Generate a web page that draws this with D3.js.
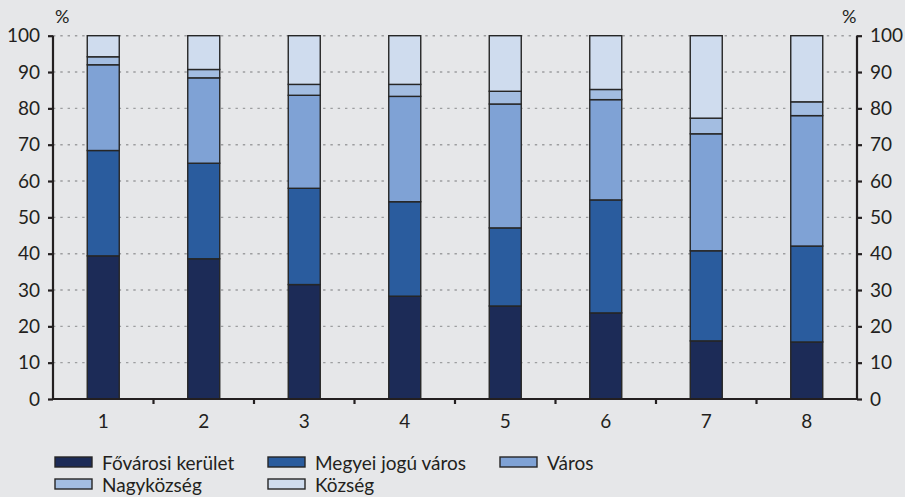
<!DOCTYPE html>
<html>
<head>
<meta charset="utf-8">
<script src="https://cdn.jsdelivr.net/npm/d3@7"></script>
<style>
  body { margin: 0; background: #e6e7e9; }
  svg { display: block; }
  text { font-family: Lato, "Open Sans", sans-serif; fill: #231f20; }
</style>
</head>
<body>
<svg id="chart" width="905" height="497"></svg>
<script>
// categories and series (percent shares)
var categories = ["1", "2", "3", "4", "5", "6", "7", "8"];
var seriesNames = ["Fővárosi kerület", "Megyei jogú város", "Város", "Nagyközség", "Község"];
var fovarosi   = [39.4, 38.6, 31.5, 28.3, 25.6, 23.7, 16.0, 15.7];
var megyei     = [29.0, 26.3, 26.5, 26.0, 21.5, 31.1, 24.8, 26.4];
var varos      = [23.6, 23.5, 25.6, 29.0, 34.1, 27.6, 32.2, 35.9];
var nagykozseg = [2.2, 2.3, 3.0, 3.3, 3.5, 2.8, 4.3, 3.8];
var kozseg     = [5.8, 9.3, 13.4, 13.4, 15.3, 14.8, 22.7, 18.2];
var yTicks = [0, 10, 20, 30, 40, 50, 60, 70, 80, 90, 100];

var colors = ["#1c2b57", "#2a5c9e", "#7fa2d5", "#a3bde1", "#cfdcee"];

var svg = d3.select("#chart"),
    plotL = 53, plotR = 857, plotT = 35.7, plotB = 399;

var rows = categories.map(function(c, i) {
  return { cat: c, s0: fovarosi[i], s1: megyei[i], s2: varos[i], s3: nagykozseg[i], s4: kozseg[i] };
});
var keys = ["s0", "s1", "s2", "s3", "s4"];
var stacked = d3.stack().keys(keys)(rows);

var x = d3.scaleBand().domain(categories).range([plotL, plotR]).padding(0);
var y = d3.scaleLinear().domain([0, 100]).range([plotB, plotT]);
var barW = 32;
var fs = 19;

// grid
svg.append("g").selectAll("line")
  .data(yTicks.filter(function(d) { return d > 0; }))
  .enter().append("line")
  .attr("x1", plotL).attr("x2", plotR)
  .attr("y1", function(d) { return y(d); })
  .attr("y2", function(d) { return y(d); })
  .attr("stroke", "#9d9ea0")
  .attr("stroke-width", 1.4)
  .attr("stroke-dasharray", "2.4,4.9");

// bars
var layer = svg.append("g").selectAll("g")
  .data(stacked)
  .enter().append("g")
  .attr("fill", function(d, i) { return colors[i]; });

layer.selectAll("rect")
  .data(function(d) { return d; })
  .enter().append("rect")
  .attr("x", function(d) { return x(d.data.cat) + x.bandwidth() / 2 - barW / 2; })
  .attr("width", barW)
  .attr("y", function(d) { return y(d[1]); })
  .attr("height", function(d) { return y(d[0]) - y(d[1]); })
  .attr("stroke", "#262626")
  .attr("stroke-width", 1.4);

// axes
var yLeft = d3.axisLeft(y).tickValues(yTicks).tickSize(5).tickPadding(8);
var yRight = d3.axisRight(y).tickValues(yTicks).tickSize(5).tickPadding(8);

var gl = svg.append("g").attr("transform", "translate(" + plotL + ",0)").call(yLeft);
var gr = svg.append("g").attr("transform", "translate(" + plotR + ",0)").call(yRight);
[gl, gr].forEach(function(g) {
  g.select(".domain").attr("d", "M0," + plotT + "V" + plotB)
    .attr("stroke", "#231f20").attr("stroke-width", 2.2);
  g.selectAll(".tick line").attr("stroke", "#231f20").attr("stroke-width", 2.2);
  g.selectAll(".tick text").attr("font-size", fs).attr("font-family", "Lato, sans-serif").attr("fill", "#231f20");
});

// x axis: ticks between categories, labels centred on bars
var gx = svg.append("g");
gx.append("line")
  .attr("x1", plotL).attr("x2", plotR)
  .attr("y1", plotB).attr("y2", plotB)
  .attr("stroke", "#231f20").attr("stroke-width", 2.2);
gx.selectAll(".xt")
  .data(categories.slice(1))
  .enter().append("line")
  .attr("class", "xt")
  .attr("x1", function(d) { return x(d); })
  .attr("x2", function(d) { return x(d); })
  .attr("y1", plotB).attr("y2", plotB + 5)
  .attr("stroke", "#231f20").attr("stroke-width", 2.2);
gx.selectAll("text")
  .data(categories)
  .enter().append("text")
  .attr("x", function(d) { return x(d) + x.bandwidth() / 2; })
  .attr("y", 428)
  .attr("text-anchor", "middle")
  .attr("font-size", fs)
  .text(function(d) { return d; });

// unit labels
svg.append("text").attr("x", 55).attr("y", 23).attr("font-size", 18).text("%");
svg.append("text").attr("x", 842).attr("y", 23).attr("font-size", 18).text("%");

// legend
var legendPos = [[55, 457], [268, 457], [500, 457], [55, 479], [268, 479]];
var legend = svg.append("g").selectAll("g")
  .data(seriesNames)
  .enter().append("g")
  .attr("transform", function(d, i) { return "translate(" + legendPos[i][0] + "," + legendPos[i][1] + ")"; });
legend.append("rect")
  .attr("width", 37).attr("height", 10)
  .attr("fill", function(d, i) { return colors[i]; })
  .attr("stroke", "#262626").attr("stroke-width", 1.4);
legend.append("text")
  .attr("x", 47).attr("y", 12.5)
  .attr("font-size", fs)
  .text(function(d) { return d; });
</script>
</body>
</html>
